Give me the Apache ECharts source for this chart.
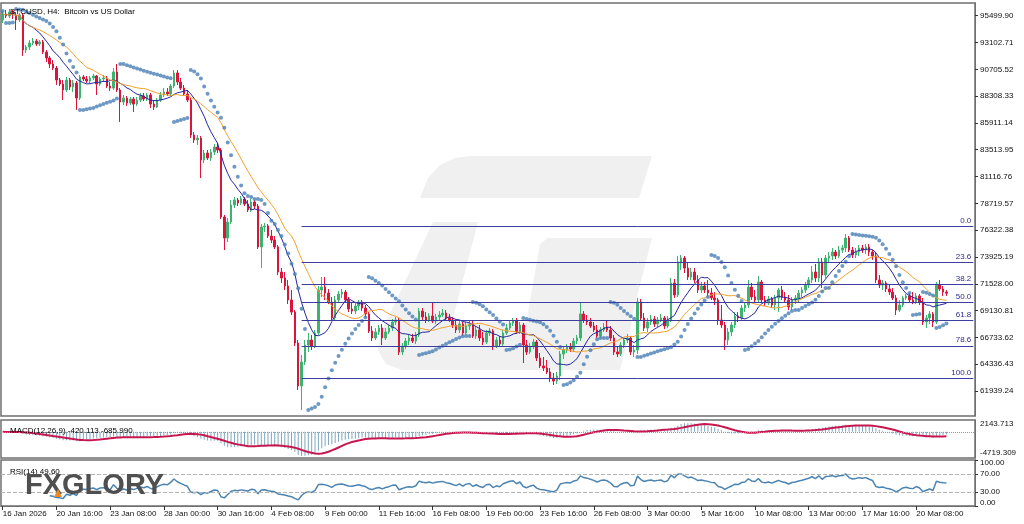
<!DOCTYPE html>
<html><head><meta charset="utf-8">
<script src="https://cdn.jsdelivr.net/npm/echarts@6/dist/echarts.min.js"></script>
<style>html,body{margin:0;padding:0;background:#fff}#c{width:1024px;height:524px}</style>
</head><body><div id="c"></div>
<script>
// ---------------- DATA ----------------
const xTickLabels = ['16 Jan 2026','20 Jan 16:00','23 Jan 08:00','28 Jan 00:00','30 Jan 16:00','4 Feb 08:00','9 Feb 00:00','11 Feb 16:00','16 Feb 08:00','19 Feb 00:00','23 Feb 16:00','26 Feb 08:00','3 Mar 00:00','5 Mar 16:00','10 Mar 08:00','13 Mar 00:00','17 Mar 16:00','20 Mar 08:00'];
const barsPerTickLabel = 16;
const slotCount = 290;
const yTickValues = [61939.24,64336.43,66733.62,69130.81,71528.00,73925.19,76322.38,78719.57,81116.76,83513.95,85911.14,88308.33,90705.52,93102.71,95499.90];
const yRange = [59705, 96636];
const macdRange = [-4719.309, 2143.713];
const rsiTicks = [0, 30, 70, 100];
const rsiLevels = [70, 30];
const fibLevels = [0, 23.6, 38.2, 50, 61.8, 78.6, 100];
const fibHigh = 76632, fibLow = 63076, fibStartBar = 89, fibEndBar = 289;
const titleText = 'BTCUSD, H4:  Bitcoin vs US Dollar';
const macdText = 'MACD(12,26,9) -420.113 -685.990';
const rsiText = 'RSI(14) 49.60';
// candles: [open, close, low, high]
const candles = [
[95120,95650,94850,95920],[95650,95470,95290,96010],[95470,95830,95290,96100],[95830,95560,95210,96010],
[95560,95120,94220,95830],[95120,95560,94940,95740],[95560,92430,91900,95740],[92430,92700,92170,92880],
[92700,93060,92430,93330],[93060,93240,92880,93510],[93240,92970,92790,93420],[92970,93150,92790,93330],
[93150,92250,92080,93330],[92250,91720,91360,92430],[91720,91180,90820,91900],[91180,90820,90640,91540],
[90820,89750,89300,91000],[89750,89390,89210,89930],[89390,88860,87960,89750],[88860,89750,88680,90020],
[89750,89120,88860,89930],[89120,89480,88680,89750],[89480,88140,87070,89660],[88140,90020,87960,90200],
[90020,89840,89660,90200],[89840,89660,89480,90110],[89660,89930,89480,90110],[89930,90110,89750,90290],
[90110,89390,88410,90200],[89390,89840,89210,90020],[89840,89930,89570,90200],[89930,89210,89030,90110],
[89210,89030,88770,89570],[89030,90470,88860,90820],[90470,88860,88680,91180],[88860,87780,86000,89030],
[87780,88140,87510,88410],[88140,87690,87430,88320],[87690,88050,87510,88230],[88050,87600,86890,88230],
[87600,87960,87430,88230],[87960,88320,87780,88590],[88320,88050,87870,88590],[88050,88410,87870,88590],
[88410,87600,87250,88590],[87600,87340,87070,87960],[87340,87960,87250,88140],[87960,88410,87780,88680],
[88410,88680,88230,89030],[88680,88500,88320,89030],[88500,89210,88320,89390],[89210,90380,89030,90640],
[90380,89570,89300,90640],[89570,89030,88860,89930],[89030,88500,88320,89300],[88500,87960,87780,88860],
[87960,84830,84560,88140],[84830,84390,84120,85100],[84390,84560,83940,84830],[84560,82600,80990,84740],
[82600,83220,82330,83490],[83220,82780,82600,83490],[82780,83310,82510,83580],[83310,83760,83040,84030],
[83760,83490,83220,84120],[83490,77500,77320,83670],[77500,75620,74550,77680],[75620,77050,75260,77410],
[77050,78570,76870,79020],[78570,79020,78300,79290],[79020,78750,78480,79200],[78750,79110,78570,79380],
[79110,78660,78480,79290],[78660,78130,77950,79020],[78130,78840,77950,79110],[78840,78480,78210,79020],
[78480,74820,74640,78660],[74820,76610,72940,76870],[76610,76700,76160,76960],[76700,75800,75620,76870],
[75800,75440,75170,76340],[75440,74820,74640,75800],[74820,72580,72310,75000],[72580,72050,71600,72940],
[72050,71330,70970,72580],[71330,70080,69720,71870],[70080,69000,68740,70970],[69000,66230,65960,69180],
[66230,62390,62030,66500],[62390,64530,60240,65160],[64530,66050,64270,66500],[66050,66500,65430,67130],
[66500,65960,65610,66950],[65960,67130,65780,67400],[67130,70970,66950,71330],[70970,71240,70350,72130],
[71240,70700,70080,72130],[70700,69900,69720,71060],[69900,68470,68200,70350],[68470,70080,68290,70440],
[70080,70610,69900,70880],[70610,70790,70260,71060],[70790,70080,69900,70970],[70080,69270,69000,70350],
[69270,69090,68830,69810],[69090,69540,68830,69810],[69540,69900,69180,70080],[69900,69360,69090,70080],
[69360,68830,68560,69630],[68830,67310,67130,69000],[67310,66680,66410,67750],[66680,67220,66500,67570],
[67220,67570,66950,67840],[67570,66680,66050,67930],[66680,67220,66500,67570],[67220,67570,67040,67840],
[67570,68110,67310,68380],[68110,68290,67840,68560],[68290,65430,65160,68470],[65430,65960,65160,66230],
[65960,66410,65690,66680],[66410,66680,66050,66950],[66680,66410,66230,67040],[66410,66950,66140,67220],
[66950,69090,66770,69360],[69090,68560,68290,69360],[68560,68290,68020,69000],[68290,68650,68110,68910],
[68650,68200,68020,69900],[68200,68560,67930,68830],[68560,68740,68290,69090],[68740,68910,68560,69270],
[68910,68470,68290,69180],[68470,68290,68110,68830],[68290,67840,67570,68560],[67840,67400,67130,68290],
[67400,67930,67130,68290],[67930,67130,66860,68110],[67130,67750,66950,68110],[67750,67930,67400,68290],
[67930,66860,66680,68200],[66860,67400,66590,67750],[67400,66680,66410,67840],[66680,66320,66050,67220],
[66320,67130,66140,67400],[67130,67310,66860,67570],[67310,65960,65610,67480],[65960,66500,65780,66770],
[66500,66140,65870,66860],[66140,67130,65960,67400],[67130,67570,66950,67930],[67570,68020,67400,68290],
[68020,68200,67750,68470],[68200,67220,67040,68470],[67220,67840,67040,68110],[67840,66050,64440,68020],
[66050,65430,65160,66500],[65430,65960,65250,66230],[65960,66320,65690,66590],[66320,64890,64620,66500],
[64890,64180,64000,65340],[64180,64000,63730,64980],[64000,63640,63460,64710],[63640,63100,62740,64000],
[63100,62830,62480,63550],[62830,63280,62570,63640],[63280,65250,62920,65520],[65250,65610,64800,65960],
[65610,65870,65340,66140],[65870,65690,65430,66230],[65690,66410,65430,66680],[66410,66680,66140,66950],
[66680,68830,66410,69900],[68830,68290,68020,69090],[68290,68110,67840,68740],[68110,67750,67570,68470],
[67750,67400,67220,68110],[67400,66860,66680,67840],[66860,67400,66680,67660],[67400,67660,67220,68020],
[67660,67400,67220,68290],[67400,66680,66410,67750],[66680,65430,65160,66950],[65430,65250,64980,65960],
[65250,66050,65070,66320],[66050,66500,65780,66770],[66500,66680,66230,67040],[66680,65430,65160,66860],
[65430,65610,64980,66050],[65610,69900,65250,70260],[69900,68470,68290,70170],[68470,67570,67310,68910],
[67570,68110,67220,68470],[68110,68380,67840,68740],[68380,67930,67660,68650],[67930,68290,67660,68560],
[68290,68470,68110,68830],[68470,67750,67480,68650],[67750,68290,67570,68650],[68290,71600,68110,72050],
[71600,70530,70260,71960],[70530,73480,70350,74010],[73480,73830,72760,74100],[73830,72940,72490,74010],
[72940,72130,71870,73480],[72130,72580,71870,72940],[72580,71870,71600,72940],[71870,70970,70700,72310],
[70970,71330,70700,71690],[71330,70970,70700,71690],[70970,70700,70440,71870],[70700,70260,70080,71150],
[70260,70080,69630,70790],[70080,68290,67840,70260],[68290,67840,67570,69630],[67840,66500,65610,68110],
[66500,67220,66050,67570],[67220,67840,66860,68110],[67840,68650,67570,69000],[68650,68470,68110,69000],
[68470,69360,68290,69630],[69360,69630,69000,69900],[69630,71240,69360,71870],[71240,70350,70080,71600],
[70350,70080,69810,70970],[70080,71690,69810,72220],[71690,70080,69810,71870],[70080,69810,69540,70440],
[69810,70170,69630,70440],[70170,69630,69360,70350],[69630,70260,69180,70530],[70260,70970,69000,71150],
[70970,70350,70080,71330],[70350,70080,69900,70790],[70080,69450,69180,70530],[69450,70080,69180,70350],
[70080,70260,69720,70530],[70260,70700,69810,70970],[70700,70970,70350,71240],[70970,71420,70700,71690],
[71420,71870,71150,72130],[71870,72580,71600,73120],[72580,72050,71690,73300],[72050,73480,71690,73830],
[73480,72310,71150,73830],[72310,73830,72050,74100],[73830,74010,73480,74370],[74010,74370,73660,74730],
[74370,74010,73740,74550],[74010,74550,73830,74910],[74550,74730,74280,75000],[74730,75620,74370,75980],
[75620,74550,74370,75800],[74550,74100,73830,74820],[74100,74370,73830,74730],[74370,74730,74010,75000],
[74730,74550,74280,75000],[74550,74820,74190,75090],[74820,74370,74010,75090],[74370,74010,73660,74550],
[74010,71870,71600,74370],[71870,71420,71150,72310],[71420,71600,70970,71870],[71600,71060,70790,71780],
[71060,70790,70530,71420],[70790,70260,70080,71150],[70260,69180,68740,70530],[69180,69630,69000,70080],
[69630,70260,69450,70440],[70260,70440,70080,70610],[70440,70080,69900,70700],[70080,69900,69720,70790],
[69900,70440,69720,70700],[70440,69900,69630,70610],[69900,68110,67840,70260],[68110,68470,67570,68740],
[68470,68830,67930,69090],[68830,68110,67660,69000],[68110,71420,67930,71690],[71420,71060,70880,71870],
[71060,70790,70440,71330],[70790,70683.36,70440,70970]
];

// ---------------- INDICATORS (derived from the candles) ----------------
const closes = candles.map(c => c[1]);
const lows = candles.map(c => c[2]);
const highs = candles.map(c => c[3]);
function sma(arr, n) {
  return arr.map((_, i) => { const s = Math.max(0, i - n + 1); let sum = 0; for (let k = s; k <= i; k++) sum += arr[k]; return sum / (i - s + 1); });
}
function ema(arr, n) {
  const k = 2 / (n + 1); const out = [];
  arr.forEach((v, i) => out.push(i === 0 ? v : v * k + out[i - 1] * (1 - k)));
  return out;
}
function rsi(arr, n) {
  const out = [null]; let ag = 0, al = 0;
  for (let i = 1; i < arr.length; i++) {
    const d = arr[i] - arr[i - 1], g = Math.max(d, 0), l = Math.max(-d, 0);
    if (i <= n) { ag = (ag * (i - 1) + g) / i; al = (al * (i - 1) + l) / i; }
    else { ag = (ag * (n - 1) + g) / n; al = (al * (n - 1) + l) / n; }
    out.push(i < n ? null : (al === 0 ? 100 : 100 - 100 / (1 + ag / al)));
  }
  return out;
}
function psar(h, l, step, maxAf) {
  const out = [h[0]]; let up = false, af = step, ep = l[0], sar = h[0];
  for (let i = 1; i < h.length; i++) {
    sar = sar + af * (ep - sar);
    if (up) {
      sar = Math.min(sar, l[i - 1], l[Math.max(0, i - 2)]);
      if (l[i] < sar) { up = false; sar = ep; ep = l[i]; af = step; }
      else if (h[i] > ep) { ep = h[i]; af = Math.min(af + step, maxAf); }
    } else {
      sar = Math.max(sar, h[i - 1], h[Math.max(0, i - 2)]);
      if (h[i] > sar) { up = true; sar = ep; ep = h[i]; af = step; }
      else if (l[i] < ep) { ep = l[i]; af = Math.min(af + step, maxAf); }
    }
    out.push(sar);
  }
  return out;
}
const maFast = sma(closes, 10);
const maSlow = sma(closes, 20);
const sar = psar(highs, lows, 0.02, 0.2);
const e12 = ema(closes, 12), e26 = ema(closes, 26);
const macdMain = e12.map((v, i) => v - e26[i]);
const macdSignal = sma(macdMain, 9);
const rsiVals = rsi(closes, 14);
const lastClose = closes[closes.length - 1];

// ---------------- CHART ----------------
const FONT = 'Liberation Sans';
const categories = Array.from({ length: slotCount }, (_, i) => String(i));
const isTick = i => i % barsPerTickLabel === 0 && i / barsPerTickLabel < xTickLabels.length;
const chart = echarts.init(document.getElementById('c'), null, { renderer: 'canvas', width: 1024, height: 524 });

const gridBase = { left: 1, right: 49, show: true, borderColor: '#6f6f6f', borderWidth: 1.5, backgroundColor: 'transparent', outerBoundsMode: 'none', containLabel: false };
const fibData = fibLevels.map(lv => {
  const p = fibHigh - (fibHigh - fibLow) * lv / 100;
  return [{ name: lv.toFixed(1), coord: [fibStartBar, p] }, { coord: [fibEndBar, p] }];
});
fibData.push({
  yAxis: lastClose, lineStyle: { opacity: 0 },
  label: { show: true, position: 'end', formatter: lastClose.toFixed(2), backgroundColor: '#000', color: '#fff', padding: [2, 2, 1, 2], fontSize: 8, fontFamily: FONT, distance: 2 }
});
const labelStyle = { fontSize: 8, fontFamily: FONT, color: '#111' };

const option = {
  animation: false,
  backgroundColor: '#ffffff',
  title: [
    { text: titleText, left: 5, top: 3, textStyle: { fontSize: 8, fontFamily: FONT, fontWeight: 'normal', color: '#000' } },
    { text: macdText, left: 5, top: 422, textStyle: { fontSize: 8, fontFamily: FONT, fontWeight: 'normal', color: '#000' } },
    { text: rsiText, left: 5, top: 463, textStyle: { fontSize: 8, fontFamily: FONT, fontWeight: 'normal', color: '#000' } }
  ],
  grid: [
    Object.assign({}, gridBase, { top: 3, height: 413 }),
    Object.assign({}, gridBase, { top: 420, height: 38 }),
    Object.assign({}, gridBase, { top: 460, height: 46 })
  ],
  xAxis: [0, 1, 2].map(k => ({
    type: 'category', gridIndex: k, data: categories, boundaryGap: true, show: k === 2,
    axisLine: { show: true, lineStyle: { color: '#6f6f6f' } },
    axisTick: { show: true, alignWithLabel: true, length: 4, interval: (i) => isTick(i), lineStyle: { color: '#333' } },
    axisLabel: Object.assign({ show: true, interval: (i) => isTick(i), formatter: (v, i) => (isTick(i) ? xTickLabels[i / barsPerTickLabel] : ''), align: 'left', margin: 4, hideOverlap: false }, labelStyle),
    splitLine: { show: false }, axisPointer: { show: false }
  })),
  yAxis: [
    { type: 'value', gridIndex: 0, position: 'right', min: yRange[0], max: yRange[1],
      axisLine: { show: true, lineStyle: { color: '#6f6f6f' } },
      axisTick: { show: true, length: 3, customValues: yTickValues, lineStyle: { color: '#333' } },
      axisLabel: Object.assign({ customValues: yTickValues, formatter: v => v.toFixed(2), margin: 5 }, labelStyle),
      splitLine: { show: false } },
    { type: 'value', gridIndex: 1, position: 'right', min: macdRange[0], max: macdRange[1],
      axisLine: { show: true, lineStyle: { color: '#6f6f6f' } },
      axisTick: { show: false },
      axisLabel: Object.assign({ customValues: macdRange, margin: 5,
        formatter: v => (v > 0 ? '{t|' + v.toFixed(3) + '}' : '{b|' + v.toFixed(3) + '}'),
        rich: { t: Object.assign({ padding: [8, 0, 0, 0] }, labelStyle), b: Object.assign({ padding: [0, 0, 10, 0] }, labelStyle) } }, labelStyle),
      splitLine: { show: false } },
    { type: 'value', gridIndex: 2, position: 'right', min: 0, max: 100,
      axisLine: { show: true, lineStyle: { color: '#6f6f6f' } },
      axisTick: { show: true, length: 3, customValues: rsiTicks, lineStyle: { color: '#333' } },
      axisLabel: Object.assign({ customValues: rsiTicks, margin: 5,
        formatter: v => (v === 100 ? '{t|' + v.toFixed(2) + '}' : v === 0 ? '{b|' + v.toFixed(2) + '}' : v.toFixed(2)),
        rich: { t: Object.assign({ padding: [6, 0, 0, 0] }, labelStyle), b: Object.assign({ padding: [0, 0, 7, 0] }, labelStyle) } }, labelStyle),
      splitLine: { show: false } }
  ],
  graphic: [
    { type: 'polygon', z: 0, silent: true, shape: { points: [[420,198],[428,178],[440,165],[455,158],[470,156],[652,156],[639,198]] }, style: { fill: '#f0f0f0' } },
    { type: 'polygon', z: 0, silent: true, shape: { points: [[433,222],[478,222],[452,322],[632,322],[620,370],[402,370],[386,364],[378,350],[380,335]] }, style: { fill: '#f0f0f0' } },
    { type: 'polygon', z: 0, silent: true, shape: { points: [[548,238],[652,238],[630,324],[526,324],[540,244]] }, style: { fill: '#f0f0f0' } },
    { type: 'text', z: 100, silent: true, x: 25, y: 486, style: { text: 'FXGLORY', font: 'bold 29px "Liberation Sans"', fill: '#4f4f4f', textVerticalAlign: 'middle', verticalAlign: 'middle' } },
    { type: 'polygon', z: 101, silent: true, shape: { points: [[54,497],[58,489],[62,497]] }, style: { fill: '#f08a24' } }
  ],
  series: [
    { type: 'candlestick', xAxisIndex: 0, yAxisIndex: 0, data: candles, barWidth: 2,
      itemStyle: { color: '#3cb371', color0: '#dc143c', borderColor: '#3cb371', borderColor0: '#dc143c', borderWidth: 1 },
      markLine: { silent: true, symbol: ['none', 'none'], animation: false,
        lineStyle: { color: '#3d3d9f', width: 1, type: 'solid' },
        label: { show: true, position: 'insideEndTop', formatter: '{b}', color: '#2b2b8f', fontSize: 8, fontFamily: FONT, distance: 2 },
        data: fibData } },
    { type: 'line', xAxisIndex: 0, yAxisIndex: 0, data: maFast, showSymbol: false, lineStyle: { color: '#2424a0', width: 1 }, z: 3 },
    { type: 'line', xAxisIndex: 0, yAxisIndex: 0, data: maSlow, showSymbol: false, lineStyle: { color: '#f2a12e', width: 1 }, z: 3 },
    { type: 'scatter', xAxisIndex: 0, yAxisIndex: 0, data: sar, symbol: 'circle', symbolSize: 4, itemStyle: { color: '#4a7fb6' }, z: 4 },
    { type: 'bar', xAxisIndex: 1, yAxisIndex: 1, data: macdMain, barWidth: 1, itemStyle: { color: '#7ea6bf' },
      markLine: { silent: true, symbol: ['none', 'none'], label: { show: false }, lineStyle: { color: '#9a9a9a', type: 'dotted', width: 1 }, data: [{ yAxis: 0 }] } },
    { type: 'line', xAxisIndex: 1, yAxisIndex: 1, data: macdSignal, showSymbol: false, lineStyle: { color: '#c8174f', width: 2 }, z: 3 },
    { type: 'line', xAxisIndex: 2, yAxisIndex: 2, data: rsiVals, showSymbol: false, lineStyle: { color: '#4b84b3', width: 1.5 },
      markLine: { silent: true, symbol: ['none', 'none'], label: { show: false }, lineStyle: { color: '#b4b4b4', type: 'dashed', width: 1 }, data: rsiLevels.map(v => ({ yAxis: v })) } }
  ]
};
chart.setOption(option);
</script></body></html>
